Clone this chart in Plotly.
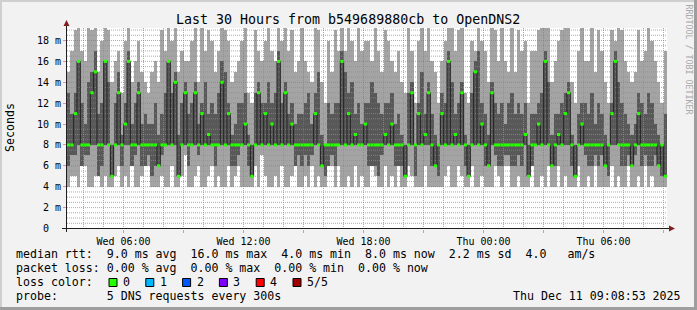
import plotly.graph_objects as go
import pandas as pd

# ---------------- data (ms), one entry per 10-minute step ----------------
med = [8,8,11,16,8,8,8,13,15,8,
       8,16,8,5,8,13,8,10,16,8,
       8,13,8,8,8,8,8,6,8,8,
       16,8,14,5,8,13,8,8,13,8,
       11,8,9,8,8,8,14,8,11,8,
       8,8,8,10,8,5,8,13,8,11,
       8,10,8,16,8,13,8,10,8,8,
       8,8,8,8,11,8,6,8,8,8,
       8,8,16,8,11,8,9,8,8,10,
       8,8,8,8,8,9,8,10,8,8,
       8,5,8,13,8,11,8,9,13,8,
       6,8,11,8,16,8,9,8,13,8,
       5,8,15,8,10,8,6,13,8,8,
       8,8,8,8,8,8,8,9,5,8,
       8,10,8,16,8,6,8,9,8,11,
       13,8,5,8,10,8,8,8,8,8,
       8,6,8,11,16,8,8,8,8,6,
       8,11,8,8,8,8,8,6,8,5]
lo = [4,5,5,4,6,6,4,4,5,5,
      4,5,4,4,5,6,4,5,4,6,
      4,4,5,6,6,4,4,4,5,4,
      4,6,4,4,5,7,4,4,5,6,
      4,4,5,6,4,5,4,4,6,4,
      5,6,4,4,4,4,6,4,7,5,
      4,4,5,4,6,4,4,5,6,4,
      4,5,4,6,4,5,4,4,6,6,
      4,6,4,4,5,4,6,4,5,4,
      4,6,5,4,4,6,4,5,4,6,
      4,4,6,5,4,4,4,6,4,4,
      4,4,4,5,6,4,4,6,5,4,
      4,6,4,4,5,4,4,4,6,5,
      4,6,6,4,4,5,4,4,4,6,
      4,4,5,4,6,4,4,6,4,5,
      4,4,4,6,4,4,5,4,6,4,
      4,4,4,6,4,5,4,4,6,4,
      4,5,4,6,4,5,4,4,4,4]
q1 = [6,7,7,8,6,7,7,8,8,5,
      6,8,8,5,8,8,6,8,8,6,
      7,8,6,6,7,5,6,6,7,8,
      8,8,8,5,8,8,6,8,8,7,
      8,8,8,8,6,8,8,8,8,6,
      6,7,8,8,6,5,8,8,8,8,
      8,8,8,8,8,8,8,8,6,7,
      6,7,6,7,8,8,6,5,6,7,
      6,8,8,8,8,8,8,8,8,8,
      6,6,6,5,7,8,8,8,6,6,
      6,5,8,8,5,8,8,8,8,6,
      6,5,8,8,8,8,8,8,8,6,
      5,8,8,8,8,6,6,8,7,6,
      6,7,7,6,6,7,6,8,5,6,
      8,8,8,8,8,6,6,8,8,8,
      8,6,5,8,8,7,6,6,7,6,
      7,6,5,8,8,8,6,6,7,6,
      7,8,6,7,6,6,7,6,5,5]
q3 = [13,11,13,16,12,10,14,15,17,11,
      12,16,14,8,12,15,9,12,17,10,
      12,14,10,11,10,10,12,9,11,13,
      16,13,15,9,12,14,11,12,14,10,
      12,14,11,12,11,13,16,15,12,9,
      10,12,12,13,9,8,13,14,12,12,
      14,12,13,17,12,14,11,12,10,11,
      11,12,13,10,13,15,9,8,12,11,
      12,12,17,15,13,14,11,12,10,12,
      12,14,13,12,11,12,12,13,10,11,
      9,8,13,14,8,12,15,11,14,11,
      9,8,13,12,17,14,11,12,14,9,
      8,13,16,17,12,11,9,14,12,11,
      12,10,12,13,11,12,11,12,8,11,
      11,12,13,17,14,9,11,11,12,13,
      14,9,8,11,12,12,11,13,10,12,
      11,9,8,12,17,14,12,11,10,9,
      10,13,12,11,13,12,10,9,8,11]
hi = [15,17,19,20,17,16,20,19,20,15,
      18,20,19,14,16,17,13,18,20,14,
      16,18,15,14,13,15,16,14,19,17,
      20,18,20,15,17,16,16,18,20,14,
      20,17,19,18,15,17,20,19,18,14,
      15,16,18,20,13,12,19,17,16,18,
      20,17,16,20,18,20,17,19,15,16,
      20,16,15,14,20,19,14,12,18,15,
      19,17,20,17,20,18,16,20,17,18,
      18,16,20,17,15,19,18,16,15,17,
      14,13,20,17,12,18,20,17,20,16,
      15,12,16,18,20,20,17,19,20,13,
      12,18,17,20,18,17,14,20,19,16,
      20,16,15,20,15,19,17,18,12,17,
      17,19,20,20,20,14,16,18,19,20,
      20,14,12,17,20,16,16,20,15,19,
      17,14,12,19,18,20,19,16,15,14,
      15,19,16,17,20,18,16,14,12,17]

y_tick_vals = [0, 2, 4, 6, 8, 10, 12, 14, 16, 18]
y_tick_text = ["0\u00a0\u00a0", "2 m", "4 m", "6 m", "8 m", "10 m", "12 m", "14 m", "16 m", "18 m"]
x_tick_text = ["Wed 06:00", "", "Wed 12:00", "", "Wed 18:00", "", "Thu 00:00", "", "Thu 06:00", ""]

title = "Last 30 Hours from b549689880cb to OpenDNS2"
legend_rows = [
    "median rtt:  9.0 ms avg  16.0 ms max  4.0 ms min  8.0 ms now  2.2 ms sd  4.0   am/s",
    "packet loss: 0.00 % avg  0.00 % max  0.00 % min  0.00 % now",
    "loss color:",
    "probe:       5 DNS requests every 300s",
]
loss_labels = ["0", "1", "2", "3", "4", "5/5"]
loss_colors = ["#26ff00", "#00b8ff", "#0059ff", "#7e00ff", "#ff0000", "#a10000"]
stamp = "Thu Dec 11 09:08:53 2025"

# ---------------- geometry ----------------
W, H = 697, 310
L, R, T, B = 67, 30, 28, 81
PW, PH = W - L - R, H - T - B
PX_PER_MS = 188 / 18.0
Y0 = -(229 - 228.5) / PX_PER_MS
Y1 = (228.5 - 28) / PX_PER_MS

def px_x(p):
    return (p - L) / PW

def px_y(p):
    return (T + PH - p) / PH

def nb(s):
    return s.replace(" ", "\u00a0")

T0 = pd.Timestamp("2025-12-10 03:10:30")
T1 = T0 + pd.Timedelta(hours=30)
STEP = pd.Timedelta(minutes=10)
starts = pd.date_range(T0, periods=len(med), freq=STEP)
ends = starts + STEP
centers = starts + STEP / 2
step_ms = STEP.total_seconds() * 1000

GRID = "rgba(143,143,143,0.75)"
MGRID = "rgba(222,79,79,0.6)"

fig = go.Figure()
# smoke
fig.add_trace(go.Bar(x=centers, base=lo, y=[h - l for h, l in zip(hi, lo)], width=step_ms,
                     marker=dict(color="#a4a4a4", line=dict(width=0)), hoverinfo="skip"))
fig.add_trace(go.Bar(x=centers, base=q1, y=[h - l for h, l in zip(q3, q1)], width=step_ms,
                     marker=dict(color="#585858", line=dict(width=0)), hoverinfo="skip"))

# dotted grid (drawn over the smoke, under the median)
hours = pd.date_range("2025-12-10 04:00", "2025-12-11 09:00", freq="h")
for major in (False, True):
    gx, gy = [], []
    for h in hours:
        if (h.hour % 3 == 0) == major:
            gx += [h, h, None]
            gy += [Y0, Y1, None]
    for k in range(1, 39):
        if (k % 4 == 0) == major:
            gx += [T0, T1, None]
            gy += [k / 2, k / 2, None]
    fig.add_trace(go.Scatter(x=gx, y=gy, mode="lines", connectgaps=False,
                             line=dict(color=MGRID if major else GRID, width=1, dash="1px,1px"),
                             hoverinfo="skip"))

# median step line
fig.add_trace(go.Scatter(x=list(starts) + [T1], y=med + [med[-1]], mode="lines",
                         line=dict(color="#202020", width=1, shape="hv"), hoverinfo="skip"))
# loss-colour median marks
mx, my = [], []
for s, e, m in zip(starts, ends, med):
    mx += [s, e, None]
    my += [m, m, None]
fig.add_trace(go.Scatter(x=mx, y=my, mode="lines", connectgaps=False,
                         line=dict(color=loss_colors[0], width=3), hoverinfo="skip"))

shapes = []
# axes + arrows
shapes.append(dict(type="line", xref="paper", yref="paper", x0=px_x(62), x1=px_x(670),
                   y0=px_y(228.5), y1=px_y(228.5), line=dict(color="#1f1f1f", width=1)))
shapes.append(dict(type="line", xref="paper", yref="paper", x0=px_x(66.5), x1=px_x(66.5),
                   y0=px_y(232), y1=px_y(24), line=dict(color="#1f1f1f", width=1)))
shapes.append(dict(type="path", xref="paper", yref="paper",
                   path=f"M {px_x(669)},{px_y(225.5)} L {px_x(669)},{px_y(231.5)} L {px_x(675)},{px_y(228.5)} Z",
                   fillcolor="#801f1f", line=dict(width=0)))
shapes.append(dict(type="path", xref="paper", yref="paper",
                   path=f"M {px_x(63.5)},{px_y(26)} L {px_x(69.5)},{px_y(26)} L {px_x(66.5)},{px_y(20)} Z",
                   fillcolor="#801f1f", line=dict(width=0)))
# bevel border
for x0, x1, y0, y1, c in [(0, W, 0, 2, "#cfcfcf"), (0, 2, 0, H, "#cfcfcf"),
                          (0, W, H - 3, H, "#9e9e9e"), (W - 3, W, 0, H, "#9e9e9e")]:
    shapes.append(dict(type="rect", xref="paper", yref="paper", x0=px_x(x0), x1=px_x(x1),
                       y0=px_y(y0), y1=px_y(y1), fillcolor=c, line=dict(width=0)))

annotations = []
FS = 11.6
annotations.append(dict(text=title, x=px_x(347.5), y=px_y(19), xref="paper", yref="paper",
                        xanchor="center", yanchor="middle", showarrow=False, font=dict(size=13.3)))
annotations.append(dict(text="Seconds", x=px_x(10), y=px_y(128), xref="paper", yref="paper",
                        xanchor="center", yanchor="middle", showarrow=False, textangle=-90,
                        font=dict(size=FS)))
annotations.append(dict(text="RRDTOOL / TOBI OETIKER", x=px_x(688.5), y=px_y(59), xref="paper",
                        yref="paper", xanchor="center", yanchor="middle", showarrow=False,
                        textangle=90, font=dict(size=8.3, color="#a8a8a8")))
row_y = [254, 268, 282, 296]
for txt, yy in zip(legend_rows, row_y):
    annotations.append(dict(text=nb(txt), x=px_x(13.5), y=px_y(yy), xref="paper", yref="paper",
                            xanchor="left", yanchor="middle", showarrow=False, font=dict(size=FS)))
annotations.append(dict(text=nb(stamp), x=px_x(683), y=px_y(296), xref="paper", yref="paper",
                        xanchor="right", yanchor="middle", showarrow=False, font=dict(size=FS)))
for i, (lab, col) in enumerate(zip(loss_labels, loss_colors)):
    bx = 109 + i * 36.8
    shapes.append(dict(type="rect", xref="paper", yref="paper", x0=px_x(bx), x1=px_x(bx + 8),
                       y0=px_y(278.5), y1=px_y(286.5), fillcolor=col,
                       line=dict(color="#000000", width=1)))
    annotations.append(dict(text=lab, x=px_x(bx + 12), y=px_y(282), xref="paper", yref="paper",
                            xanchor="left", yanchor="middle", showarrow=False, font=dict(size=FS)))

xt = pd.date_range("2025-12-10 06:00", "2025-12-11 09:00", freq="3h")
fig.update_layout(
    width=W, height=H, margin=dict(l=L, r=R, t=T, b=B, pad=0),
    paper_bgcolor="#f2f2f2", plot_bgcolor="#ffffff",
    barmode="overlay", bargap=0, showlegend=False,
    font=dict(family="DejaVu Sans Mono", color="#000000", size=10),
    shapes=shapes, annotations=annotations,
)
fig.update_xaxes(type="date", range=[T0, T1], tickmode="array", tickvals=list(xt), ticktext=x_tick_text,
                 ticks="outside", ticklen=3, tickcolor=MGRID, tickfont=dict(size=10),
                 showgrid=False, zeroline=False, showline=False, fixedrange=True)
fig.update_yaxes(range=[Y0, Y1], tickmode="array", tickvals=y_tick_vals, ticktext=y_tick_text,
                 ticks="outside", ticklen=3, tickcolor=MGRID, tickfont=dict(size=10),
                 showgrid=False, zeroline=False, showline=False, fixedrange=True)

fig.write_html("out.html")
